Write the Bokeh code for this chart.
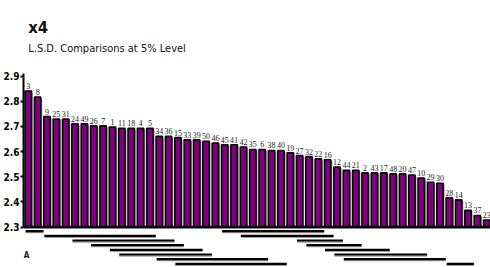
from bokeh.plotting import figure
from bokeh.models import Range1d, FixedTicker, Span, ColumnDataSource, LabelSet, Label
from bokeh.embed import file_html
from bokeh.resources import INLINE

# ---- data ----
treatments = ["3", "8", "9", "25", "31", "24", "49", "26", "7", "1",
              "11", "18", "4", "5", "34", "36", "15", "33", "39", "50",
              "46", "45", "41", "42", "35", "6", "38", "40", "19", "27",
              "32", "22", "16", "12", "44", "21", "2", "43", "17", "48",
              "20", "47", "10", "29", "30", "28", "14", "13", "37", "23"]
means = [2.840, 2.816, 2.739, 2.729, 2.729, 2.710, 2.710, 2.702, 2.702, 2.697,
         2.692, 2.692, 2.692, 2.692, 2.660, 2.660, 2.655, 2.647, 2.647, 2.641,
         2.634, 2.627, 2.627, 2.618, 2.608, 2.608, 2.604, 2.604, 2.595, 2.584,
         2.580, 2.571, 2.567, 2.538, 2.525, 2.525, 2.515, 2.515, 2.515, 2.511,
         2.511, 2.506, 2.495, 2.478, 2.474, 2.416, 2.408, 2.366, 2.346, 2.328]
y_ticks = [2.3, 2.4, 2.5, 2.6, 2.7, 2.8, 2.9]

# LSD groupings (first and last bar position of each line, line row)
group_first = [0, 21, 2, 23, 5, 29, 7, 30, 9, 32, 10, 33, 14, 34, 16, 45]
group_last = [1, 31, 13, 32, 15, 33, 16, 35, 18, 38, 19, 42, 25, 44, 27, 47]
group_row = [0, 0, 1, 1, 2, 2, 3, 3, 4, 4, 5, 5, 6, 6, 7, 7]

title_text = "x4"
subtitle_text = "L.S.D. Comparisons at 5% Level"
base = 2.3

NARROW = "DejaVu Sans Condensed, Liberation Sans Narrow, Roboto, sans-serif"

W, H = 490, 267

pos = list(range(len(treatments)))
src = ColumnDataSource(dict(x=pos, top=means, name=treatments,
                            xs=[v + 0.14 for v in pos],
                            tops=[m - 0.006 for m in means]))

p = figure(width=W, height=H, output_backend="svg", toolbar_location=None,
           x_range=Range1d(-0.51, 49.4), y_range=Range1d(2.1391, 3.2),
           x_axis_location=None, title=None,
           min_border_top=0, min_border_bottom=0, min_border_left=0, min_border_right=0)
p.extra_y_ranges = {"rows": Range1d(start=7.79, end=-49.51),
                    "px": Range1d(start=H, end=0)}
p.grid.visible = False
p.outline_line_color = None
p.background_fill_color = "white"
p.border_fill_color = "white"

# titles
p.add_layout(Label(x=0.0, y=27, y_range_name="px", text=title_text,
                   text_font_size="16.5px", text_font_style="bold", text_font=NARROW,
                   text_align="left", text_baseline="alphabetic", text_color="#111111"))
p.add_layout(Label(x=0.0, y=47.5, y_range_name="px", text=subtitle_text,
                   text_font_size="11px", text_font_style="normal", text_font=NARROW,
                   text_align="left", text_baseline="alphabetic", text_color="#111111"))

# bar shadows and bars
p.vbar(x="xs", top="tops", bottom=base, width=0.72, source=src,
       fill_color="#9c9c9c", line_color=None)
p.vbar(x="x", top="top", bottom=base, width=0.68, source=src,
       fill_color="#800080", line_color="black", line_width=1.6)

# baseline
p.add_layout(Span(location=base - 0.004, dimension="width", line_color="#9c9c9c", line_width=1.5))
p.add_layout(Span(location=base, dimension="width", line_color="black", line_width=2.5))

# value labels
p.add_layout(LabelSet(x="x", y="top", text="name", source=src, y_offset=2,
                      text_align="center", text_baseline="bottom",
                      text_font_size="8px", text_font=NARROW, text_color="#222222"))

# LSD lines
x0 = [g - 0.28 for g in group_first]
x1 = [g + 0.63 for g in group_last]
p.segment(x0=x0, x1=x1, y0=[r + 0.3 for r in group_row], y1=[r + 0.3 for r in group_row],
          y_range_name="rows", line_color="#a0a0a0", line_width=1.5)
p.segment(x0=x0, x1=x1, y0=group_row, y1=group_row,
          y_range_name="rows", line_color="black", line_width=2.2)

p.add_layout(Label(x=-0.19, y=5.2, y_range_name="rows", text="A", text_font_size="8px",
                   text_font_style="bold", text_font=NARROW, text_align="center",
                   text_baseline="middle", text_color="#222222"))

# y axis
ax = p.yaxis[0]
ax.bounds = (2.3, 2.9087)
ax.ticker = FixedTicker(ticks=y_ticks)
ax.axis_line_width = 2
ax.axis_line_color = "black"
ax.major_tick_line_width = 2
ax.major_tick_out = 3
ax.major_tick_in = 0
ax.minor_tick_line_color = None
ax.major_label_standoff = 1
ax.major_label_text_font = NARROW
ax.major_label_text_font_style = "bold"
ax.major_label_text_font_size = "10px"
ax.major_label_text_color = "black"

open("out.html", "w").write(file_html(p, INLINE))
